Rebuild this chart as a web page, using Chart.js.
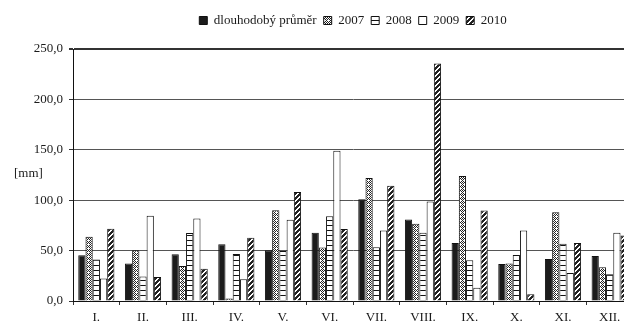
<!DOCTYPE html>
<html lang="cs">
<head>
<meta charset="utf-8">
<script src="https://cdn.jsdelivr.net/npm/chart.js@4.4.1/dist/chart.umd.min.js"></script>
<style>
  html, body { margin: 0; padding: 0; background: #fff; overflow: hidden; }
  #wrap { width: 706px; height: 322px; }
</style>
</head>
<body>
<div id="wrap"><canvas id="c" width="706" height="322"></canvas></div>
<script>
// Měsíční úhrny srážek [mm]
const months = ['I.', 'II.', 'III.', 'IV.', 'V.', 'VI.', 'VII.', 'VIII.', 'IX.', 'X.', 'XI.', 'XII.'];
const seriesNames = ['dlouhodobý průměr', '2007', '2008', '2009', '2010'];
const longTermMean = [45.4, 37.2, 46.4, 56.2, 50.3, 67.8, 101.0, 80.9, 57.5, 36.8, 41.7, 44.7];
const y2007 = [63.8, 50.3, 34.8, 2.6, 90.1, 53.0, 122.0, 76.6, 124.0, 37.2, 88.1, 33.5];
const y2008 = [41.1, 24.4, 67.4, 46.7, 49.5, 84.2, 53.3, 67.8, 40.4, 45.7, 56.9, 26.6];
const y2009 = [22.4, 84.5, 81.9, 21.7, 80.6, 149.0, 70.0, 98.7, 13.1, 70.0, 27.9, 67.8];
const y2010 = [71.7, 23.7, 31.9, 62.8, 108.2, 71.4, 114.4, 235.5, 89.8, 6.6, 57.5, 65.0];
const yTicks = [0, 50, 100, 150, 200, 250];

const FONT = '"Liberation Serif", "Times New Roman", serif';
const INK = '#1a1a1a';

// Pixel tile patterns for the bar fills
function tilePattern(size, painter) {
  const cv = document.createElement('canvas');
  cv.width = size; cv.height = size;
  const g = cv.getContext('2d');
  g.fillStyle = '#fff';
  g.fillRect(0, 0, size, size);
  painter(g, size);
  return document.getElementById('c').getContext('2d').createPattern(cv, 'repeat');
}
const checker = tilePattern(4, (g) => {
  g.fillStyle = '#222';
  for (let y = 0; y < 4; y++) for (let x = 0; x < 4; x++) {
    if ((x + y) % 2 === 0 && !(x === 0 && y === 0)) g.fillRect(x, y, 1, 1);
  }
});
const hLines = tilePattern(5, (g, n) => {
  g.fillStyle = '#111';
  g.fillRect(0, 0, n, 1);
});
const diagonal = tilePattern(5, (g, n) => {
  g.fillStyle = '#222';
  for (let y = 0; y < n; y++) for (let x = 0; x < n; x++) {
    const k = (x + y) % n;
    if (k !== 0 && k !== 1) g.fillRect(x, y, 1, 1);
  }
});

const fills = ['#1c1c1c', checker, hLines, '#ffffff', diagonal];
const values = [longTermMean, y2007, y2008, y2009, y2010];

// "[mm]" unit caption left of the value axis
const unitLabel = {
  id: 'unitLabel',
  afterDraw(chart) {
    const ctx = chart.ctx;
    ctx.save();
    ctx.font = '13px ' + FONT;
    ctx.fillStyle = INK;
    ctx.textAlign = 'left';
    ctx.textBaseline = 'middle';
    ctx.fillText('[mm]', 14, 174);
    ctx.restore();
  }
};

// Extra room below the legend row
const legendGap = {
  id: 'legendGap',
  beforeUpdate(chart) {
    const lg = chart.legend;
    if (lg && !lg._gapWrapped) {
      const fit = lg.fit;
      lg.fit = function () { fit.call(this); this.height += 12; };
      lg._gapWrapped = true;
    }
  }
};

new Chart(document.getElementById('c'), {
  type: 'bar',
  data: {
    labels: months,
    datasets: seriesNames.map((name, i) => ({
      label: name,
      data: values[i],
      backgroundColor: fills[i],
      borderColor: '#111',
      borderWidth: 1
    }))
  },
  options: {
    responsive: false,
    devicePixelRatio: 1,
    animation: false,
    categoryPercentage: 0.775,
    barPercentage: 1.0,
    layout: { padding: { top: 7, right: 0, left: 0, bottom: 0 } },
    plugins: {
      tooltip: { enabled: false },
      legend: {
        position: 'top',
        align: 'center',
        labels: {
          boxWidth: 8,
          boxHeight: 8,
          padding: 7,
          color: INK,
          font: { family: FONT, size: 13 }
        }
      }
    },
    scales: {
      x: {
        offset: true,
        grid: { offset: true, drawOnChartArea: false, drawTicks: true, tickLength: 4, tickColor: '#333' },
        border: { color: '#111', width: 1 },
        ticks: { color: INK, padding: 5, font: { family: FONT, size: 13 }, maxRotation: 0 },
        afterFit(s) { s.height = 21; }
      },
      y: {
        min: 0,
        max: 250,
        afterBuildTicks(s) { s.ticks = yTicks.map(v => ({ value: v })); },
        grid: {
          color: (c) => c.tick && c.tick.value === 250 ? '#333' : '#555',
          lineWidth: (c) => c.tick && c.tick.value === 250 ? 2 : 1,
          tickLength: 4,
          tickColor: '#333'
        },
        border: { color: '#111', width: 1 },
        ticks: {
          color: INK,
          padding: 6,
          font: { family: FONT, size: 13 },
          callback: (v) => v.toFixed(1).replace('.', ',')
        },
        afterFit(s) { s.width = 73; }
      },
      // empty right-hand margin, keeps the legend centred over the plot
      yRight: {
        position: 'right',
        display: true,
        grid: { display: false, drawTicks: false },
        border: { display: false },
        ticks: { display: false },
        afterFit(s) { s.width = 73; }
      }
    }
  },
  plugins: [unitLabel, legendGap]
});
</script>
</body>
</html>
